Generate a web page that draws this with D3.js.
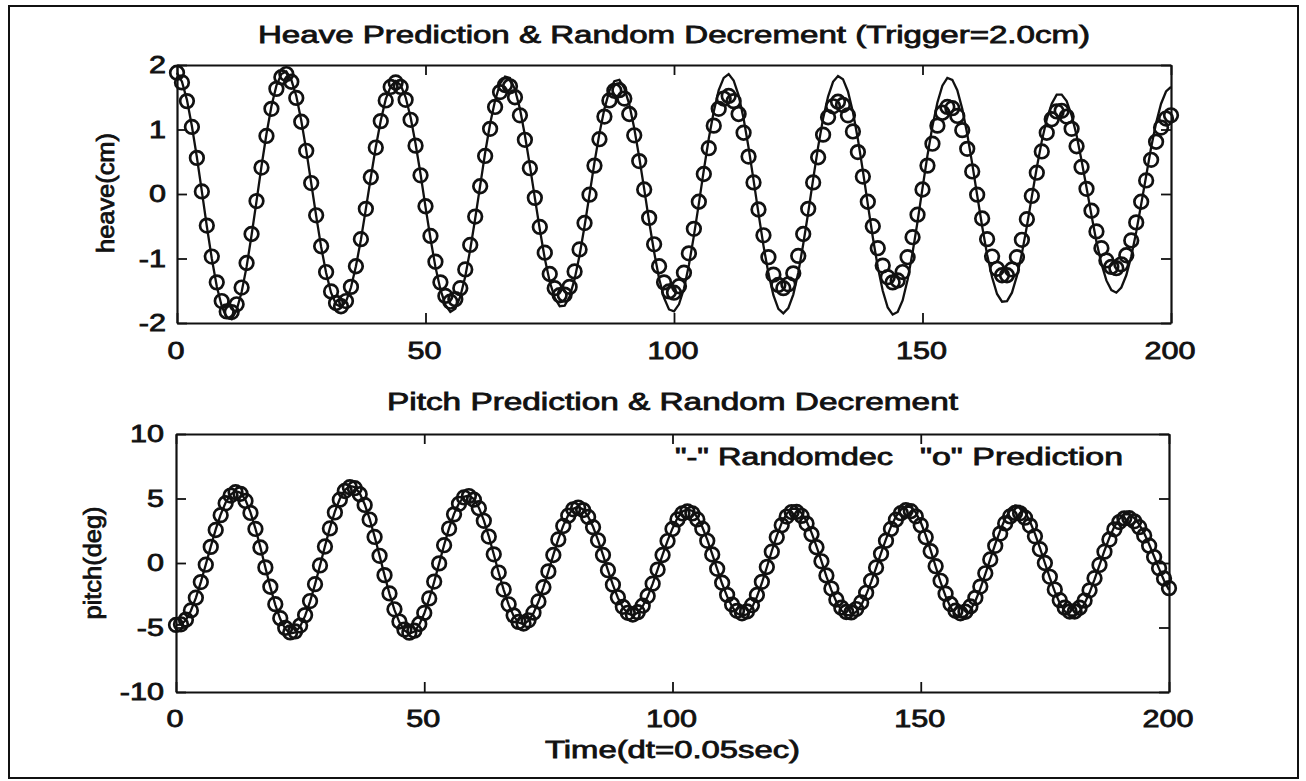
<!DOCTYPE html>
<html>
<head>
<meta charset="utf-8">
<script src="https://cdn.jsdelivr.net/npm/d3@7"></script>
<style>
  html, body { margin: 0; padding: 0; background: #fff; }
  svg { display: block; }
  text { font-family: "Liberation Sans", Arial, sans-serif; fill: #111; stroke: #111; stroke-width: 0.8px; }
</style>
</head>
<body>
<svg id="chart" width="1306" height="781"></svg>
<script>
// Heave: random decrement signature (line) and model prediction (circles), cm
// one value per sample, dt = 0.05 s
const heaveRandomdec = [
  1.88,1.74,1.46,1.05,.57,.04,-.50,-1.00,-1.43,-1.74,-1.92,
  -1.94,-1.80,-1.52,-1.13,-.64,-.11,.43,.93,1.36,1.68,1.86,
  1.90,1.77,1.52,1.14,.68,.17,-.34,-.82,-1.22,-1.53,-1.71,
  -1.75,-1.67,-1.45,-1.12,-.71,-.23,.26,.73,1.14,1.47,1.67,
  1.75,1.69,1.50,1.19,.78,.31,-.20,-.69,-1.13,-1.48,-1.72,
  -1.83,-1.78,-1.59,-1.28,-.86,-.38,.13,.64,1.09,1.45,1.71,
  1.82,1.80,1.62,1.32,.91,.44,-.06,-.55,-1.00,-1.36,-1.61,
  -1.74,-1.73,-1.59,-1.32,-.95,-.50,-.01,.49,.94,1.32,1.60,
  1.75,1.77,1.64,1.39,1.02,.57,.08,-.43,-.90,-1.31,-1.61,
  -1.79,-1.82,-1.71,-1.47,-1.10,-.65,-.15,.37,.86,1.28,1.61,
  1.80,1.86,1.76,1.53,1.17,.72,.22,-.30,-.80,-1.23,-1.57,
  -1.78,-1.85,-1.77,-1.56,-1.22,-.78,-.29,.23,.73,1.17,1.51,
  1.74,1.83,1.78,1.59,1.27,.85,.36,-.16,-.67,-1.13,-1.50,
  -1.76,-1.87,-1.83,-1.65,-1.33,-.91,-.43,.09,.60,1.05,1.42,
  1.68,1.80,1.77,1.61,1.32,.93,.47,-.02,-.50,-.94,-1.29,
  -1.55,-1.67,-1.66,-1.53,-1.27,-.92,-.50,-.04,.41,.82,1.16,
  1.40,1.54,1.54,1.44,1.22,.91,.52,.10,-.33,-.74,-1.08,
  -1.34,-1.49,-1.53,-1.45,-1.26,-.97,-.59,-.16,.28,.72,1.10,
  1.40,1.59,1.66
];
const heavePrediction = [
  1.88,1.73,1.44,1.04,.56,.04,-.49,-.97,-1.37,-1.66,-1.82,
  -1.83,-1.71,-1.45,-1.07,-.62,-.11,.41,.90,1.32,1.63,1.81,
  1.86,1.74,1.49,1.12,.67,.17,-.33,-.81,-1.21,-1.51,-1.69,
  -1.74,-1.66,-1.44,-1.12,-.70,-.23,.26,.72,1.13,1.45,1.66,
  1.73,1.66,1.46,1.15,.75,.29,-.19,-.65,-1.05,-1.37,-1.58,
  -1.67,-1.63,-1.46,-1.17,-.79,-.35,.12,.59,1.01,1.35,1.58,
  1.69,1.67,1.50,1.22,.84,.40,-.06,-.51,-.91,-1.24,-1.46,
  -1.57,-1.56,-1.44,-1.20,-.86,-.45,-.01,.44,.85,1.20,1.45,
  1.60,1.61,1.48,1.24,.91,.51,.07,-.37,-.78,-1.12,-1.37,
  -1.51,-1.53,-1.43,-1.22,-.92,-.54,-.12,.31,.71,1.06,1.32,
  1.48,1.52,1.44,1.24,.95,.58,.18,-.24,-.64,-.98,-1.25,
  -1.41,-1.46,-1.40,-1.23,-.96,-.62,-.23,.18,.57,.92,1.19,
  1.36,1.43,1.38,1.22,.97,.65,.27,-.12,-.50,-.84,-1.11,
  -1.29,-1.37,-1.34,-1.21,-.98,-.67,-.32,.07,.44,.78,1.06,
  1.26,1.35,1.33,1.21,.99,.70,.35,-.01,-.38,-.70,-.97,
  -1.16,-1.26,-1.26,-1.17,-.98,-.71,-.39,-.03,.33,.66,.95,
  1.16,1.28,1.29,1.20,1.01,.74,.42,.08,-.26,-.58,-.84,
  -1.03,-1.13,-1.15,-1.09,-.95,-.72,-.44,-.12,.21,.53,.81,
  1.03,1.17,1.22
];

// Pitch: random decrement signature (line) and model prediction (circles), deg
const pitchRandomdec = [
  -4.80,-4.77,-4.42,-3.70,-2.70,-1.48,-.12,1.27,2.60,3.76,4.69,
  5.30,5.58,5.44,4.88,3.93,2.67,1.21,-.35,-1.87,-3.24,-4.35,
  -5.11,-5.47,-5.38,-4.92,-4.10,-2.99,-1.66,-.19,1.30,2.72,3.98,
  4.98,5.66,5.97,5.88,5.41,4.56,3.42,2.05,.57,-.95,-2.39,
  -3.64,-4.60,-5.23,-5.48,-5.32,-4.79,-3.92,-2.79,-1.46,-.03,1.39,
  2.70,3.81,4.64,5.13,5.24,4.96,4.29,3.30,2.07,.68,-.75,
  -2.08,-3.23,-4.10,-4.62,-4.74,-4.48,-3.89,-3.01,-1.90,-.66,.63,
  1.85,2.90,3.71,4.20,4.35,4.15,3.61,2.81,1.78,.63,-.57,
  -1.70,-2.69,-3.44,-3.91,-4.05,-3.86,-3.35,-2.59,-1.62,-.52,.63,
  1.72,2.68,3.48,3.99,4.16,4.03,3.55,2.79,1.81,.69,-.47,
  -1.61,-2.59,-3.38,-3.90,-4.10,-3.98,-3.47,-2.63,-1.55,-.33,.93,
  2.11,3.11,3.82,4.19,4.20,3.87,3.24,2.36,1.29,.14,-1.03,
  -2.10,-3.00,-3.67,-4.03,-4.06,-3.78,-3.27,-2.47,-1.48,-.37,.76,
  1.85,2.82,3.60,4.13,4.38,4.34,3.91,3.16,2.16,.98,-.27,
  -1.49,-2.57,-3.43,-4.00,-4.21,-4.12,-3.67,-2.94,-1.99,-.87,.30,
  1.46,2.51,3.44,4.08,4.46,4.43,3.97,3.22,2.28,1.18,.00,
  -1.16,-2.22,-3.11,-3.74,-4.06,-4.06,-3.75,-3.14,-2.29,-1.27,-.16,
  .95,1.97,2.82,3.42,3.77,3.78,3.49,3.00,2.30,1.45,.50,
  -.45,-1.35,-2.10
];
const pitchPrediction = [
  -4.80,-4.75,-4.39,-3.68,-2.69,-1.48,-.13,1.25,2.56,3.71,4.63,
  5.23,5.49,5.36,4.81,3.88,2.64,1.20,-.34,-1.84,-3.19,-4.28,
  -5.03,-5.38,-5.30,-4.85,-4.04,-2.95,-1.64,-.19,1.28,2.68,3.92,
  4.91,5.58,5.88,5.80,5.33,4.50,3.37,2.02,.56,-.94,-2.36,
  -3.59,-4.54,-5.16,-5.40,-5.25,-4.73,-3.87,-2.75,-1.44,-.03,1.38,
  2.67,3.77,4.59,5.08,5.19,4.91,4.25,3.27,2.05,.67,-.74,
  -2.06,-3.20,-4.06,-4.57,-4.69,-4.44,-3.85,-2.98,-1.88,-.65,.62,
  1.83,2.87,3.67,4.16,4.30,4.10,3.57,2.78,1.76,.62,-.56,
  -1.68,-2.66,-3.40,-3.86,-4.00,-3.81,-3.31,-2.56,-1.60,-.51,.62,
  1.70,2.64,3.38,3.84,4.00,3.84,3.38,2.66,1.72,.66,-.45,
  -1.53,-2.47,-3.22,-3.71,-3.90,-3.75,-3.27,-2.48,-1.46,-.31,.88,
  1.99,2.93,3.60,3.95,3.96,3.65,3.06,2.23,1.22,.13,-.97,
  -1.98,-2.83,-3.46,-3.80,-3.83,-3.57,-3.06,-2.31,-1.38,-.35,.71,
  1.73,2.64,3.36,3.86,4.09,4.02,3.62,2.93,2.00,.91,-.25,
  -1.38,-2.38,-3.18,-3.70,-3.90,-3.78,-3.37,-2.70,-1.83,-.80,.27,
  1.33,2.28,3.07,3.61,3.88,3.85,3.51,2.90,2.07,1.07,.00,
  -1.07,-2.06,-2.88,-3.46,-3.76,-3.76,-3.47,-2.91,-2.12,-1.18,-.15,
  .88,1.82,2.61,3.17,3.46,3.47,3.23,2.78,2.13,1.34,.46,
  -.40,-1.20,-1.95
];

// Axis ticks and text
const timeTicks = [0, 50, 100, 150, 200];
const heaveTicks = [-2, -1, 0, 1, 2];
const pitchTicks = [-10, -5, 0, 5, 10];
const heaveTitle = "Heave Prediction & Random Decrement (Trigger=2.0cm)";
const pitchTitle = "Pitch Prediction & Random Decrement";
const heaveLabel = "heave(cm)";
const pitchLabel = "pitch(deg)";
const timeLabel = "Time(dt=0.05sec)";
const legendLine = "\"-\" Randomdec";
const legendMarker = "\"o\" Prediction";

const svg = d3.select("#chart");
const FONT = 23.5;
const plainNumber = d => String(d);   // ASCII hyphen for negatives

// outer figure frame
svg.append("rect")
  .attr("x", 9).attr("y", 6).attr("width", 1289).attr("height", 772)
  .attr("fill", "none").attr("stroke", "#111").attr("stroke-width", 2);

// text helper: wide, heavy glyphs; width either given or a stretch of natural width
function addText(parent, str, x, y, opts = {}) {
  const t = parent.append("text")
    .attr("x", x).attr("y", y)
    .attr("font-size", FONT)
    .attr("text-anchor", opts.anchor || "middle")
    .text(str);
  if (opts.transform) t.attr("transform", opts.transform);
  const natural = t.node().getComputedTextLength();
  const w = opts.width || natural * (opts.stretch || 1.3);
  t.attr("textLength", w).attr("lengthAdjust", "spacingAndGlyphs");
  return t;
}

function drawPanel(cfg) {
  const x = d3.scaleLinear().domain([0, 200]).range([cfg.left, cfg.right]);
  const y = d3.scaleLinear().domain(cfg.yDomain).range([cfg.bottom, cfg.top]);
  const g = svg.append("g");

  const tick = 10;
  const axes = [
    { axis: d3.axisLeft(y).tickValues(cfg.yTicks).tickFormat(plainNumber).tickPadding(cfg.yPad), t: `translate(${cfg.left},0)`, labels: true, side: "y" },
    { axis: d3.axisRight(y).tickValues(cfg.yTicks).tickFormat(""), t: `translate(${cfg.right},0)` },
    { axis: d3.axisBottom(x).tickValues(timeTicks).tickFormat(plainNumber).tickPadding(cfg.xPad), t: `translate(0,${cfg.bottom})`, labels: true, side: "x" },
    { axis: d3.axisTop(x).tickValues(timeTicks).tickFormat(""), t: `translate(0,${cfg.top})` }
  ];
  axes.forEach(a => {
    a.axis.tickSizeInner(-tick).tickSizeOuter(0);
    const ag = g.append("g").attr("transform", a.t).call(a.axis);
    ag.attr("font-family", null).attr("font-size", null);
    ag.select(".domain").attr("stroke", "#111").attr("stroke-width", 2.2);
    ag.selectAll(".tick line").attr("stroke", "#111").attr("stroke-width", 1.8);
    if (a.labels) {
      ag.selectAll(".tick text").each(function () {
        const s = d3.select(this);
        s.attr("font-size", FONT).attr("fill", "#111");
        const natural = this.getComputedTextLength();
        s.attr("textLength", natural * 1.3).attr("lengthAdjust", "spacingAndGlyphs");
        if (a.side === "x") s.attr("dx", -1.5);
      });
    }
  });

  // random decrement signature
  g.append("path")
    .datum(cfg.line)
    .attr("fill", "none")
    .attr("stroke", "#111")
    .attr("stroke-width", 2.3)
    .attr("stroke-linejoin", "miter")
    .attr("d", d3.line().x((d, i) => x(i)).y(d => y(d)));

  // predicted samples
  g.append("g").selectAll("circle")
    .data(cfg.markers)
    .join("circle")
    .attr("cx", (d, i) => x(i))
    .attr("cy", d => y(d))
    .attr("r", 6.8)
    .attr("fill", "none")
    .attr("stroke", "#111")
    .attr("stroke-width", 2.7);

  // title and y label
  addText(svg, cfg.title, cfg.titleX, cfg.titleY, { width: cfg.titleW });
  addText(svg, cfg.yLabel, 0, 0, {
    width: cfg.yLabelW,
    transform: `translate(${cfg.yLabelX},${cfg.yLabelY}) rotate(-90)`
  });
  return { x, y };
}

drawPanel({
  left: 177, right: 1171, top: 65, bottom: 323,
  yDomain: [-2, 2], yTicks: heaveTicks, yPad: 11, xPad: 19,
  line: heaveRandomdec, markers: heavePrediction,
  title: heaveTitle, titleX: 674, titleY: 43, titleW: 832,
  yLabel: heaveLabel, yLabelX: 114, yLabelY: 193, yLabelW: 120
});

drawPanel({
  left: 176, right: 1169, top: 434, bottom: 692,
  yDomain: [-10, 10], yTicks: pitchTicks, yPad: 12, xPad: 18,
  line: pitchRandomdec, markers: pitchPrediction,
  title: pitchTitle, titleX: 672.5, titleY: 410, titleW: 571,
  yLabel: pitchLabel, yLabelX: 101, yLabelY: 563, yLabelW: 113
});

// legend note and time label
addText(svg, legendLine, 675, 465, { anchor: "start", width: 218 });
addText(svg, legendMarker, 920, 465, { anchor: "start", width: 203 });
addText(svg, timeLabel, 672.5, 758, { width: 255 });
</script>
</body>
</html>
